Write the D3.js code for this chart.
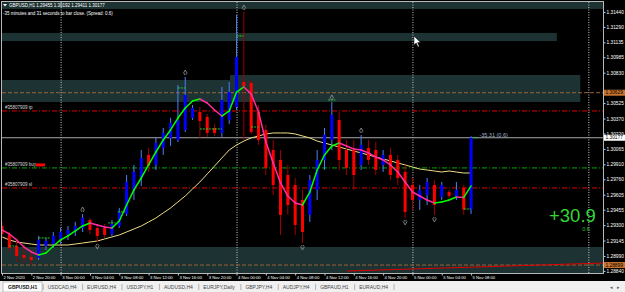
<!DOCTYPE html>
<html>
<head>
<meta charset="utf-8">
<script src="https://cdn.jsdelivr.net/npm/d3@7/dist/d3.min.js"></script>
<style>
body { margin: 0; background: #000; overflow: hidden; }
svg { display: block; font-family: "Liberation Sans", Arial, sans-serif; }
</style>
</head>
<body>
<svg id="visu" width="625" height="292"></svg>
<script>

// GBPUSD H1, one value per bar, first bar 2 Nov 16:00
var barOpen = [1.29291,1.29211,1.29091,1.29000,1.28980,1.28970,1.29091,1.29111,1.29151,1.29201,
  1.29231,1.29271,1.29352,1.29271,1.29271,1.29211,1.29291,1.29412,1.29653,1.29773,
  1.30004,1.29904,1.30075,1.30175,1.30155,1.30255,1.30376,1.30436,1.30386,1.30275,
  1.30225,1.30356,1.30486,1.30737,1.30727,1.30436,1.30255,1.30054,1.29954,1.29803,
  1.29703,1.29553,1.29402,1.29653,1.29954,1.30155,1.30356,1.30054,1.30054,1.29904,
  1.30075,1.30054,1.29904,1.30004,1.29954,1.29834,1.29703,1.29553,1.29603,1.29703,
  1.29583,1.29633,1.29583,1.29673,1.29455];
var barHigh = [1.29332,1.29231,1.29151,1.29101,1.29050,1.29191,1.29171,1.29231,1.29271,1.29291,
  1.29332,1.29412,1.29372,1.29312,1.29312,1.29352,1.29472,1.29803,1.29904,1.30054,
  1.30075,1.30175,1.30275,1.30376,1.30707,1.30787,1.30506,1.30486,1.30416,1.30316,
  1.30687,1.30737,1.31410,1.31440,1.30757,1.30506,1.30306,1.30155,1.30054,1.29904,
  1.29773,1.29653,1.29803,1.30054,1.30275,1.30536,1.30436,1.30155,1.30155,1.30205,
  1.30155,1.30135,1.30054,1.30075,1.30004,1.29904,1.29773,1.29703,1.29773,1.29753,
  1.29733,1.29653,1.29733,1.29703,1.30192];
var barLow = [1.29171,1.29030,1.28930,1.28920,1.28910,1.28950,1.29050,1.29071,1.29111,1.29151,
  1.29191,1.29231,1.29211,1.29131,1.29171,1.29191,1.29271,1.29392,1.29553,1.29693,
  1.29834,1.29854,1.30004,1.30095,1.30135,1.30235,1.30356,1.30175,1.30185,1.30195,
  1.30185,1.30316,1.30456,1.30155,1.30215,1.30105,1.29803,1.29603,1.29201,1.29402,
  1.29201,1.29121,1.29332,1.29553,1.29854,1.30054,1.29854,1.29803,1.29653,1.29854,
  1.29904,1.29803,1.29834,1.29753,1.29703,1.29372,1.29452,1.29452,1.29502,1.29402,
  1.29553,1.29573,1.29553,1.29402,1.29411];
var barClose = [1.29211,1.29071,1.28990,1.28970,1.28950,1.29151,1.29141,1.29191,1.29231,1.29251,
  1.29291,1.29372,1.29251,1.29191,1.29201,1.29312,1.29432,1.29733,1.29834,1.29974,
  1.29894,1.30125,1.30225,1.30326,1.30356,1.30607,1.30476,1.30346,1.30225,1.30225,
  1.30556,1.30637,1.30988,1.30697,1.30235,1.30155,1.29874,1.29703,1.29402,1.29502,
  1.29301,1.29231,1.29753,1.29954,1.30205,1.30406,1.29954,1.29874,1.29803,1.30105,
  1.29954,1.29854,1.30004,1.29803,1.29773,1.29432,1.29553,1.29653,1.29733,1.29502,
  1.29703,1.29593,1.29653,1.29455,1.30177];

// fast (green/magenta) and slow (khaki) moving averages
var fastMA = [1.29251,1.29211,1.29151,1.29080,1.29030,1.29000,1.29020,1.29090,1.29151,1.29191,
  1.29241,1.29291,1.29321,1.29301,1.29281,1.29271,1.29341,1.29502,1.29653,1.29773,
  1.29904,1.30034,1.30155,1.30255,1.30375,1.30476,1.30546,1.30566,1.30526,1.30456,
  1.30395,1.30446,1.30636,1.30687,1.30616,1.30436,1.30134,1.29924,1.29723,1.29592,
  1.29522,1.29502,1.29632,1.29853,1.30004,1.30094,1.30124,1.30094,1.30064,1.30054,
  1.30024,1.29984,1.29954,1.29904,1.29833,1.29733,1.29632,1.29592,1.29552,1.29522,
  1.29532,1.29552,1.29582,1.29578,1.29693];
var slowMA = [1.29181,1.29151,1.29130,1.29120,1.29110,1.29100,1.29100,1.29100,1.29100,1.29100,
  1.29110,1.29120,1.29130,1.29140,1.29161,1.29181,1.29201,1.29231,1.29261,1.29291,
  1.29331,1.29371,1.29422,1.29472,1.29532,1.29592,1.29663,1.29733,1.29813,1.29893,
  1.29974,1.30054,1.30104,1.30144,1.30175,1.30195,1.30215,1.30225,1.30225,1.30225,
  1.30215,1.30195,1.30175,1.30144,1.30124,1.30104,1.30084,1.30064,1.30044,1.30024,
  1.30004,1.29984,1.29964,1.29944,1.29924,1.29904,1.29883,1.29863,1.29853,1.29843,
  1.29833,1.29843,1.29833,1.29823,1.29823];

var upFractals = [11, 25, 33, 45, 49];
var downFractals = [13, 41, 55, 59];

// short green level marks: [from bar, to bar, price]
var greenDashes = [[1, 2, 1.29090], [5, 6.5, 1.29171], [14.5, 15.5, 1.29322], [15.8, 16.8, 1.29432],
  [24, 25, 1.30677], [27, 30, 1.30265], [32, 33, 1.31199], [34, 35, 1.30285],
  [44.5, 45.5, 1.30556], [63, 64, 1.29462], [64.2, 65, 1.30177]];

// supply / demand boxes: [from bar, to bar, price top, price bottom]
var zones = [[0, 82, 1.31540, 1.31470], [0, 75.7, 1.31229, 1.31148], [0, 31.1, 1.30757, 1.30536],
  [31.1, 78.9, 1.30807, 1.30536], [0, 82, 1.29080, 1.28819]];

var daySeparators = [8, 32, 56, 80];
var priceTicks = [1.31440, 1.31290, 1.31135, 1.30985, 1.30830, 1.30525, 1.30370, 1.30220,
  1.30065, 1.29910, 1.29760, 1.29605, 1.29455, 1.29300, 1.29145, 1.28990, 1.28840];
var timeTicks = [0, 4, 8, 12, 16, 20, 24, 28, 32, 36, 40, 44, 48, 52, 56, 60, 64];
var timeLabels = ["2 Nov 2020", "2 Nov 20:00", "3 Nov 00:00", "3 Nov 04:00", "3 Nov 08:00",
  "3 Nov 12:00", "3 Nov 16:00", "3 Nov 20:00", "4 Nov 00:00", "4 Nov 04:00", "4 Nov 08:00",
  "4 Nov 12:00", "4 Nov 16:00", "4 Nov 20:00", "5 Nov 00:00", "5 Nov 04:00", "5 Nov 08:00"];

var orderNames = ["#35807909 tp", "#35807909 buy", "#35807909 sl"];
var orderPrices = [1.30446, 1.29874, 1.29673];
var orderColors = ["#e00000", "#00a800", "#e00000"];

var bidPrice = 1.30177;
var markPrices = [1.30629, 1.28899];
var trendLine = [[47, 1.28839], [82, 1.28919]];

var tabNames = ["GBPUSD,H1", "USDCAD,H4", "EURUSD,H4", "USDJPY,H1", "AUDUSD,H4",
  "EURJPY,Daily", "GBPJPY,H4", "AUDJPY,H4", "GBPAUD,H1", "EURAUD,H4"];

var vis = d3.select("#visu"),
    WIDTH = 625,
    HEIGHT = 292,
    PLOT = { left: 2, right: 603, top: 2, bottom: 273 },
    xScale = d3.scaleLinear().domain([0, 82]).range([PLOT.left, PLOT.right]),
    yScale = d3.scaleLinear().domain([1.28819, 1.31540]).range([PLOT.bottom, PLOT.top]),
    fmt = d3.format(".5f");

vis.append("rect").attr("width", WIDTH).attr("height", HEIGHT).attr("fill", "#000");

vis.append("clipPath").attr("id", "plotclip")
  .append("rect")
  .attr("x", PLOT.left).attr("y", PLOT.top)
  .attr("width", PLOT.right - PLOT.left).attr("height", PLOT.bottom - PLOT.top);

var plot = vis.append("g").attr("clip-path", "url(#plotclip)");

// zones
plot.selectAll(".zone").data(zones).enter().append("rect")
  .attr("x", function(d) { return xScale(d[0]); })
  .attr("width", function(d) { return xScale(d[1]) - xScale(d[0]); })
  .attr("y", function(d) { return yScale(d[2]); })
  .attr("height", function(d) { return yScale(d[3]) - yScale(d[2]); })
  .attr("fill", "#1d3232");

// day separators
plot.selectAll(".sep").data(daySeparators).enter().append("line")
  .attr("x1", function(d) { return xScale(d) + 0.5; })
  .attr("x2", function(d) { return xScale(d) + 0.5; })
  .attr("y1", PLOT.top).attr("y2", PLOT.bottom)
  .attr("stroke", "#c8c8c8").attr("stroke-width", 1).attr("stroke-dasharray", "1,1.5");

// orange marks
plot.selectAll(".mark").data(markPrices).enter().append("line")
  .attr("x1", PLOT.left).attr("x2", PLOT.right)
  .attr("y1", function(d) { return yScale(d); })
  .attr("y2", function(d) { return yScale(d); })
  .attr("stroke", "#9a6436").attr("stroke-width", 1).attr("stroke-dasharray", "4,2");

// bid line
plot.append("line")
  .attr("x1", PLOT.left).attr("x2", PLOT.right)
  .attr("y1", yScale(bidPrice)).attr("y2", yScale(bidPrice))
  .attr("stroke", "#a8a8a8").attr("stroke-width", 1);

// order lines
plot.selectAll(".order").data(orderPrices).enter().append("line")
  .attr("x1", PLOT.left).attr("x2", PLOT.right)
  .attr("y1", function(d) { return yScale(d); })
  .attr("y2", function(d) { return yScale(d); })
  .attr("stroke", function(d, i) { return orderColors[i]; })
  .attr("stroke-width", 1).attr("stroke-dasharray", "5,2,1,2");

plot.selectAll(".orderlabel").data(orderNames).enter().append("text")
  .attr("x", 5)
  .attr("y", function(d, i) { return yScale(orderPrices[i]) - 1.5; })
  .attr("font-size", "4.5px").attr("fill", "#d8d8d8")
  .text(function(d) { return d; });

plot.append("rect")
  .attr("x", 36).attr("y", yScale(orderPrices[1]) - 4.5)
  .attr("width", 9).attr("height", 3).attr("fill", "#ff0000");

// trend line at the bottom
plot.append("line")
  .attr("x1", xScale(trendLine[0][0])).attr("y1", yScale(trendLine[0][1]))
  .attr("x2", xScale(trendLine[1][0])).attr("y2", yScale(trendLine[1][1]))
  .attr("stroke", "#e00000").attr("stroke-width", 1);

// slow MA
var lineGen = d3.line()
  .x(function(d, i) { return xScale(i); })
  .y(function(d) { return yScale(d); });

plot.append("path")
  .attr("d", lineGen(slowMA))
  .attr("stroke", "#eedd88").attr("stroke-width", 1).attr("fill", "none");

// candles
var bars = plot.selectAll(".bar").data(barOpen).enter().append("g");
bars.append("line")
  .attr("x1", function(d, i) { return xScale(i); })
  .attr("x2", function(d, i) { return xScale(i); })
  .attr("y1", function(d, i) { return yScale(barHigh[i]); })
  .attr("y2", function(d, i) { return yScale(barLow[i]); })
  .attr("stroke", function(d, i) { return barClose[i] >= d ? "#4a7fff" : "#a00000"; })
  .attr("stroke-width", 1);
bars.append("rect")
  .attr("x", function(d, i) { return xScale(i) - 1.5; })
  .attr("width", 3)
  .attr("y", function(d, i) { return yScale(Math.max(d, barClose[i])); })
  .attr("height", function(d, i) { return Math.max(1, Math.abs(yScale(d) - yScale(barClose[i]))); })
  .attr("fill", function(d, i) { return barClose[i] >= d ? "#0000ff" : "#ff0000"; });

// fast MA, colored by slope
var segs = fastMA.slice(1).map(function(v, k) { return [k, k + 1]; });
plot.selectAll(".fast").data(segs).enter().append("line")
  .attr("x1", function(d) { return xScale(d[0]); })
  .attr("x2", function(d) { return xScale(d[1]); })
  .attr("y1", function(d) { return yScale(fastMA[d[0]]); })
  .attr("y2", function(d) { return yScale(fastMA[d[1]]); })
  .attr("stroke", function(d) { return fastMA[d[1]] > fastMA[d[0]] ? "#00ff00" : "#ff2ca0"; })
  .attr("stroke-width", 1.5).attr("stroke-linecap", "round");

// green dashes
plot.selectAll(".gdash").data(greenDashes).enter().append("line")
  .attr("x1", function(d) { return xScale(d[0]); })
  .attr("x2", function(d) { return xScale(d[1]); })
  .attr("y1", function(d) { return yScale(d[2]); })
  .attr("y2", function(d) { return yScale(d[2]); })
  .attr("stroke", "#22cc22").attr("stroke-width", 1).attr("stroke-dasharray", "2,1");

// fractals
plot.selectAll(".up").data(upFractals).enter().append("path")
  .attr("transform", function(d) { return "translate(" + xScale(d) + "," + (yScale(barHigh[d]) - 5) + ")"; })
  .attr("d", "M-2,1.5L0,-2L2,1.5M-0.8,1.5L-0.8,3M0.8,1.5L0.8,3")
  .attr("stroke", "#9a9a9a").attr("stroke-width", 0.8).attr("fill", "none");
plot.selectAll(".down").data(downFractals).enter().append("path")
  .attr("transform", function(d) { return "translate(" + xScale(d) + "," + (yScale(barLow[d]) + 5) + ")"; })
  .attr("d", "M-2,-1.5L0,2L2,-1.5M-0.8,-1.5L-0.8,-3M0.8,-1.5L0.8,-3")
  .attr("stroke", "#9a9a9a").attr("stroke-width", 0.8).attr("fill", "none");

// profit texts
plot.append("text")
  .attr("x", xScale(65) + 1).attr("y", yScale(bidPrice) - 0.5)
  .attr("font-size", "5.5px").attr("fill", "#9fb0cc")
  .text("-35.31 (0.6)");
plot.append("text")
  .attr("x", 549).attr("y", 222)
  .attr("font-size", "18.5px").attr("fill", "#33d633")
  .text("+30.9");
plot.append("text")
  .attr("x", 586).attr("y", 231).attr("text-anchor", "middle")
  .attr("font-size", "5.5px").attr("fill", "#33c033")
  .text("0.6");

// title
vis.append("path").attr("d", "M3,4L7,4L5,6.5Z").attr("fill", "#fff");
vis.append("text").attr("x", 9).attr("y", 6.8)
  .attr("font-size", "4.5px").attr("fill", "#fff")
  .text("GBPUSD,H1  " + fmt(barOpen[64]) + " " + fmt(barHigh[64]) + " " + fmt(barLow[64]) + " " + fmt(barClose[64]));
vis.append("text").attr("x", 3).attr("y", 14.5)
  .attr("font-size", "4.5px").attr("fill", "#fff")
  .text("-35 minutes and 31 seconds to bar close. (Spread: 0.6)");

// mouse pointer
vis.append("path")
  .attr("d", "M414,36L414,45L416.2,43L418,47L419.3,46.4L417.6,42.6L420.5,42.6Z")
  .attr("fill", "#fff").attr("stroke", "#000").attr("stroke-width", 0.5);

// frame
vis.append("rect")
  .attr("x", PLOT.left - 0.5).attr("y", PLOT.top - 0.5)
  .attr("width", PLOT.right - PLOT.left + 1).attr("height", PLOT.bottom - PLOT.top + 1)
  .attr("fill", "none").attr("stroke", "#b8b8b8").attr("stroke-width", 1);

// price axis
var yAxis = d3.axisRight(yScale).tickValues(priceTicks).tickSize(2).tickFormat(fmt);
var gy = vis.append("g").attr("transform", "translate(" + (PLOT.right + 0.5) + ",0)").call(yAxis);
gy.select(".domain").remove();
gy.selectAll("line").attr("stroke", "#c8c8c8");
gy.selectAll("text").attr("x", 3).attr("fill", "#fff").attr("font-size", "4.8px")
  .attr("font-family", "Liberation Sans, Arial, sans-serif");

// price boxes
function priceBox(p, bg, fg) {
  var y = yScale(p);
  vis.append("rect").attr("x", 604).attr("y", y - 3).attr("width", 22).attr("height", 6).attr("fill", bg);
  vis.append("text").attr("x", 605.5).attr("y", y + 1.7)
    .attr("font-size", "4.8px").attr("fill", fg).text(fmt(p));
}
priceBox(markPrices[0], "#c8742e", "#000");
priceBox(markPrices[1], "#c8742e", "#000");
priceBox(bidPrice, "#ffffff", "#000");

// time axis
var xAxis = d3.axisBottom(xScale).tickValues(timeTicks).tickSize(2)
  .tickFormat(function(d, i) { return timeLabels[i]; });
var gx = vis.append("g").attr("transform", "translate(0," + (PLOT.bottom + 0.5) + ")").call(xAxis);
gx.select(".domain").remove();
gx.selectAll("line").attr("stroke", "#c8c8c8");
gx.selectAll("text").attr("text-anchor", "start").attr("x", 1).attr("y", 2).attr("dy", "0.75em")
  .attr("fill", "#fff").attr("font-size", "4.2px")
  .attr("font-family", "Liberation Sans, Arial, sans-serif");

// tab bar
vis.append("rect").attr("x", 0).attr("y", 281).attr("width", WIDTH).attr("height", 11).attr("fill", "#f0f0f0");
vis.append("rect").attr("x", 3).attr("y", 282).attr("width", 39).attr("height", 10)
  .attr("fill", "#fff").attr("stroke", "#9a9a9a").attr("stroke-width", 0.6);

var tabX = 8;
tabNames.forEach(function(name, i) {
  var t = vis.append("text").attr("x", tabX).attr("y", 289)
    .attr("font-size", "5px").attr("fill", i === 0 ? "#111" : "#444")
    .attr("font-weight", i === 0 ? "bold" : "normal")
    .text(name);
  var w = t.node().getComputedTextLength();
  var sx = tabX + w + 6;
  vis.append("line").attr("x1", sx).attr("x2", sx).attr("y1", 284).attr("y2", 290)
    .attr("stroke", "#888").attr("stroke-width", 0.6);
  tabX = sx + 4.5;
});
vis.append("text").attr("x", 610).attr("y", 289).attr("font-size", "5px").attr("fill", "#555").text("◂");
vis.append("text").attr("x", 617).attr("y", 289).attr("font-size", "5px").attr("fill", "#555").text("▸");

</script>
</body>
</html>
